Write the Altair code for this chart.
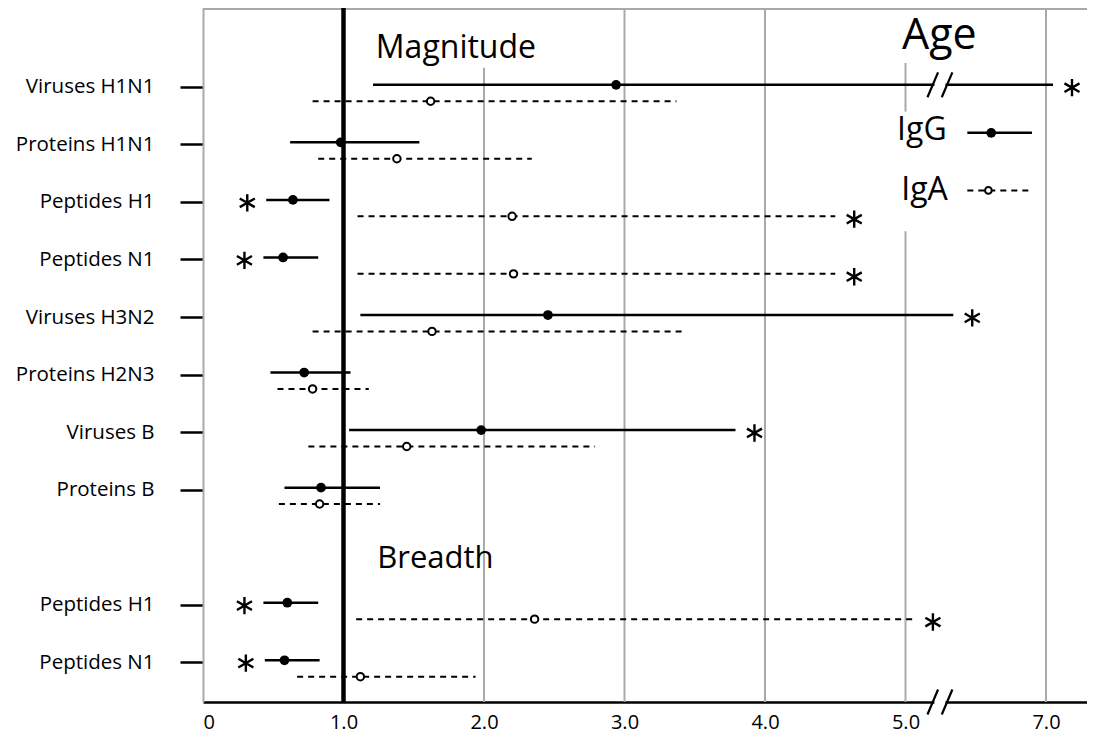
import altair as alt
import pandas as pd

# ---------------- data ----------------
rows = ["Viruses H1N1", "Proteins H1N1", "Peptides H1", "Peptides N1", "Viruses H3N2",
        "Proteins H2N3", "Viruses B", "Proteins B", "Peptides H1", "Peptides N1"]
row_pos = [0, 1, 2, 3, 4, 5, 6, 7, 9, 10]

igg_low = [1.21, 0.62, 0.45, 0.43, 1.12, 0.48, 1.04, 0.58, 0.43, 0.44]
igg_est = [2.94, 0.98, 0.64, 0.57, 2.455, 0.72, 1.98, 0.84, 0.60, 0.58]
igg_high = [7.05, 1.54, 0.90, 0.82, 5.34, 1.05, 3.79, 1.26, 0.82, 0.83]
igg_sig = ["high", "", "low", "low", "high", "", "high", "", "low", "low"]

iga_low = [0.78, 0.82, 1.10, 1.10, 0.78, 0.53, 0.75, 0.54, 1.09, 0.67]
iga_est = [1.62, 1.38, 2.20, 2.21, 1.63, 0.78, 1.45, 0.83, 2.36, 1.12]
iga_high = [3.37, 2.34, 4.50, 4.50, 3.42, 1.18, 2.79, 1.26, 5.06, 1.94]
iga_sig = ["", "", "high", "high", "", "", "", "", "high", ""]

tick_values = [0, 1, 2, 3, 4, 5, 7]

# ---------------- layout / style ----------------
PX_PER_UNIT = 140.5
W, H = 884, 694
XMAX = W / PX_PER_UNIT
YTOP, YBOT = -1.37, 10.69
BREAK_AT = 6.0      # axis break: values from here on are drawn one unit to the left
BREAK_MARK = 5.245  # where the "//" sits
FONT = "Open Sans"
GRID = "#a9a9a9"


def disp(v):
    return v - 1.0 if v >= BREAK_AT else v


recs, stars = [], []
for i, name in enumerate(rows):
    for ab, lo, est, hi, sig, dy in [
        ("IgG", igg_low[i], igg_est[i], igg_high[i], igg_sig[i], -0.035),
        ("IgA", iga_low[i], iga_est[i], iga_high[i], iga_sig[i], 0.25),
    ]:
        y = row_pos[i] + dy
        recs.append(dict(row=name, ab=ab, y=y, lo=disp(lo), est=disp(est), hi=disp(hi)))
        if sig == "low":
            stars.append(dict(x=disp(lo) - 0.135, y=y + 0.05))
        elif sig == "high":
            stars.append(dict(x=disp(hi) + 0.135, y=y + 0.05))
df = pd.DataFrame(recs)
df_g = df[df.ab == "IgG"]
df_a = df[df.ab == "IgA"]
df_star = pd.DataFrame(stars)

xs = alt.Scale(domain=[0, XMAX], nice=False, zero=False)
ys = alt.Scale(domain=[YTOP, YBOT], nice=False, zero=False, reverse=True)

axis_disp = [disp(v) for v in tick_values]
x_label_expr = ("datum.value == 0 ? '0' : format(datum.value > %g ? datum.value + 1 : datum.value, '.1f')"
                % (BREAK_MARK))
y_label_expr = " : ".join("datum.value == %g ? '%s'" % (p, n) for p, n in zip(row_pos, rows)) + " : ''"

x_axis = alt.Axis(values=axis_disp, labelExpr=x_label_expr, title=None, grid=False, ticks=False,
                  domainColor="black", domainWidth=2.5, labelFont=FONT, labelFontSize=20,
                  labelColor="black", labelPadding=10, zindex=0)
y_axis = alt.Axis(values=row_pos, labelExpr=y_label_expr, title=None, grid=False,
                  domainColor=GRID, domainWidth=2, tickColor="black", tickWidth=2.5,
                  tickSize=23, labelPadding=26, labelFont=FONT, labelFontSize=20.5,
                  labelColor="black", zindex=0)


def X(field):
    return alt.X(field, scale=xs, axis=x_axis)


def Y(field):
    return alt.Y(field, scale=ys, axis=y_axis)


# gridlines (segments; interrupted where text sits)
grid_x = [2, 3, 4, 5, 5, 6]
grid_y1 = [-0.33, YTOP, YTOP, -0.415, 2.51, YTOP]
grid_y2 = [YBOT, YBOT, YBOT, 0.43, YBOT, YBOT]
df_grid = pd.DataFrame(dict(x=grid_x, y=grid_y1, y2=grid_y2))

grid = alt.Chart(df_grid).mark_rule(color=GRID, strokeWidth=2).encode(
    x=X("x:Q"), y=Y("y:Q"), y2="y2:Q",
)

top_border = alt.Chart(df_grid.head(1)).mark_rule(color=GRID, strokeWidth=2).encode(
    x=alt.value(0), x2=alt.value(W), y=alt.value(1)
)

ref_line = alt.Chart(pd.DataFrame(dict(x=[1.0]))).mark_rule(color="black", strokeWidth=4.5).encode(
    x=X("x:Q"), y=alt.value(0), y2=alt.value(H)
)

igg_lines = alt.Chart(df_g).mark_rule(color="black", strokeWidth=2.5).encode(
    x=X("lo:Q"), x2="hi:Q", y=Y("y:Q")
)
iga_lines = alt.Chart(df_a).mark_rule(color="black", strokeWidth=2, strokeDash=[6, 5]).encode(
    x=X("lo:Q"), x2="hi:Q", y=Y("y:Q")
)

# axis-break marks: on the long IgG line and on the x axis
brk_y = [df_g.y.iloc[0], YBOT]
half = 5.5 / PX_PER_UNIT
df_brk = pd.DataFrame(dict(x=[BREAK_MARK] * 2, x1=[BREAK_MARK - half] * 2, x2=[BREAK_MARK + half] * 2,
                           y=brk_y, y1=[v - 0.06 for v in brk_y], y2=[v + 0.06 for v in brk_y]))
brk_gap = alt.Chart(df_brk).mark_rect(color="white").encode(
    x=X("x1:Q"), x2="x2:Q", y=Y("y1:Q"), y2="y2:Q",
)
brk_marks = alt.Chart(df_brk).mark_point(
    shape="M-1,1L-0.15,-1M0.15,1L1,-1", size=620, stroke="black", strokeWidth=2.2, fill=None, opacity=1
).encode(x=X("x:Q"), y=Y("y:Q"))

igg_pts = alt.Chart(df_g).mark_point(shape="circle", filled=True, size=95, color="black", opacity=1).encode(
    x=X("est:Q"), y=Y("y:Q")
)
iga_pts = alt.Chart(df_a).mark_point(shape="circle", size=55, fill="white", stroke="black",
                                     strokeWidth=2, opacity=1, filled=False).encode(
    x=X("est:Q"), y=Y("y:Q")
)

ASTERISK = "M0,-1L0,1M-0.87,-0.5L0.87,0.5M-0.87,0.5L0.87,-0.5"
star_pts = alt.Chart(df_star).mark_point(shape=ASTERISK, size=300, stroke="black", strokeWidth=2.4,
                                         fill=None, opacity=1).encode(
    x=X("x:Q"), y=Y("y:Q")
)

# annotations: section titles, "Age" and the IgG / IgA key
ann_text = ["Magnitude", "Breadth", "Age", "IgG", "IgA"]
ann_x = [1.23, 1.24, 4.975, 4.94, 4.97]
ann_y = [-0.50, 8.36, -0.66, 0.917, 1.97]
ann_size = [32, 31, 43, 32, 32]
df_ann = pd.DataFrame(dict(t=ann_text, x=ann_x, y=ann_y, s=ann_size))
ann = alt.Chart(df_ann).mark_text(align="left", baseline="alphabetic", font=FONT, color="black").encode(
    x=X("x:Q"), y=Y("y:Q"),
    text="t:N", size=alt.Size("s:Q", scale=None, legend=None),
)

key_lo, key_hi = 5.44, 5.90
df_key = pd.DataFrame(dict(ab=["IgG", "IgA"], lo=[key_lo, key_lo], hi=[key_hi, key_hi],
                           y=[0.80, 1.80], est=[5.61, 5.59]))
key_g_line = alt.Chart(df_key.head(1)).mark_rule(color="black", strokeWidth=2.5).encode(
    x=X("lo:Q"), x2="hi:Q", y=Y("y:Q"))
key_a_line = alt.Chart(df_key.tail(1)).mark_rule(color="black", strokeWidth=2, strokeDash=[6, 5]).encode(
    x=X("lo:Q"), x2="hi:Q", y=Y("y:Q"))
key_g_pt = alt.Chart(df_key.head(1)).mark_point(shape="circle", filled=True, size=95, color="black",
                                                opacity=1).encode(
    x=X("est:Q"), y=Y("y:Q"))
key_a_pt = alt.Chart(df_key.tail(1)).mark_point(shape="circle", size=45, fill="white", stroke="black",
                                                strokeWidth=2, opacity=1, filled=False).encode(
    x=X("est:Q"), y=Y("y:Q"))

chart = alt.layer(
    grid, top_border, ref_line, iga_lines, igg_lines, brk_gap, brk_marks,
    iga_pts, igg_pts, star_pts, ann, key_g_line, key_a_line, key_g_pt, key_a_pt,
).properties(
    width=W, height=H, autosize=alt.AutoSizeParams(type="none"),
    padding={"left": 195, "top": 0, "right": 0, "bottom": 32},
    background="white",
).configure_view(stroke=None)

chart.save("out.html", embed_options={"renderer": "svg", "actions": False})
